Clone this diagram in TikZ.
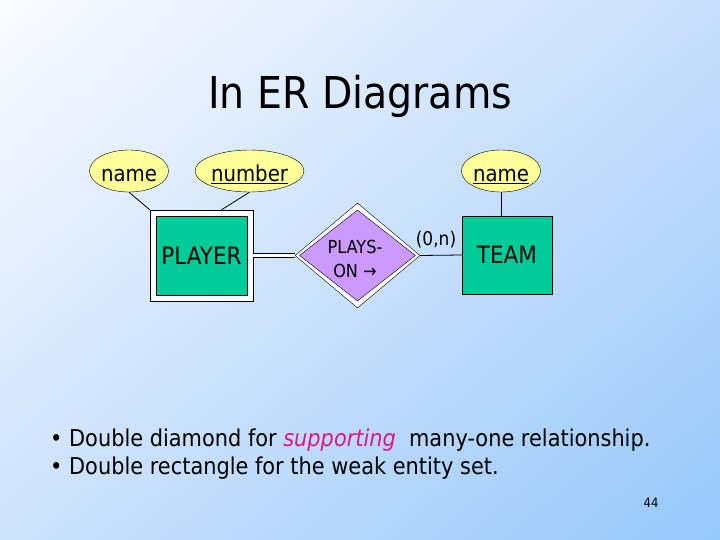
\documentclass[tikz,border=0pt]{standalone}
\usepackage{fontspec}
\setmainfont[FakeStretch=0.9]{DejaVu Sans}
\usetikzlibrary{shapes.geometric,calc,shadings}
\definecolor{entgreen}{RGB}{0,204,153}
\definecolor{relpurple}{RGB}{204,153,255}
\definecolor{attyellow}{RGB}{255,255,153}
\definecolor{suppink}{RGB}{222,20,135}
\definecolor{bgtl}{RGB}{250,252,255}
\definecolor{bgtr}{RGB}{200,222,252}
\definecolor{bgbl}{RGB}{205,226,252}
\definecolor{bgbr}{RGB}{150,200,250}
\begin{document}
\begin{tikzpicture}[x=1bp,y=-1bp,
  attr/.style={ellipse, draw, fill=attyellow, inner sep=0, minimum height=42bp, text height=21bp, text depth=0bp, font=\fontsize{22}{24}\selectfont},
  entbox/.style={rectangle, draw, fill=entgreen, inner sep=0, font=\fontsize{24}{26}\selectfont},
  outerbox/.style={rectangle, draw, fill=white, inner sep=0},
  conn/.style={draw, line width=0.8bp},
  bullettext/.style={anchor=base west, inner sep=0, font=\fontsize{23.3}{28}\selectfont}
]
\shade[upper left=bgtl, upper right=bgtr, lower left=bgbl, lower right=bgbr] (0,0) rectangle (720,540);
\useasboundingbox (0,0) rectangle (720,540);

% title
\node[font=\fontsize{44}{48}\selectfont, inner sep=0] (title) at (360,96) {In ER Diagrams};

% attributes
\node[attr, minimum width=78bp] (pname) at (129,171) {name};
\node[attr, minimum width=103bp] (pnum) at (249.5,171) {\underline{number}};
\node[attr, minimum width=78bp] (tname) at (501,171) {\underline{name}};

% weak entity PLAYER
\node[outerbox, minimum width=103bp, minimum height=91bp] (playerout) at (201.5,255.5) {};
\node[entbox, minimum width=91bp, minimum height=79bp] (player) at (201.5,255.5) {PLAYER};

% supporting relationship
\node[diamond, draw, fill=white, inner sep=0, minimum width=125bp, minimum height=105bp] (relout) at (357.5,255.5) {};
\node[diamond, draw, fill=relpurple, inner sep=0, minimum width=116bp, minimum height=91bp] (relin) at (357.5,255.5) {};
\node[align=center, inner sep=0, font=\fontsize{18}{25}\selectfont] (rel) at (355,259) {PLAYS-\\ON →};

% TEAM
\node[entbox, minimum width=90bp, minimum height=78bp] (team) at (507,255) {TEAM};

% connectors
\draw[conn] (pname.south) -- (playerout.north west);
\draw[conn] (pnum.south) -- ($(playerout.north)+(20,0)$);
\draw[conn] (tname.south) -- (tname.south |- team.north);
\draw[line width=1.1bp, double, double distance=2.5bp] (playerout.east) -- (relout.west);
\draw[conn] (relout.east) -- (team.west);
\node[font=\fontsize{19}{22}\selectfont, inner sep=0] (card) at (436,240) {(0,n)};

% bullets
\node[bullettext] (b1) at (50,446) {• Double diamond for \textcolor{suppink}{\itshape supporting}\ \ many-one relationship.};
\node[bullettext] (b2) at (50,474) {• Double rectangle for the weak entity set.};
\node[font=\fontsize{13}{15}\selectfont, inner sep=0] (pg) at (651,503) {44};
\end{tikzpicture}
\end{document}
